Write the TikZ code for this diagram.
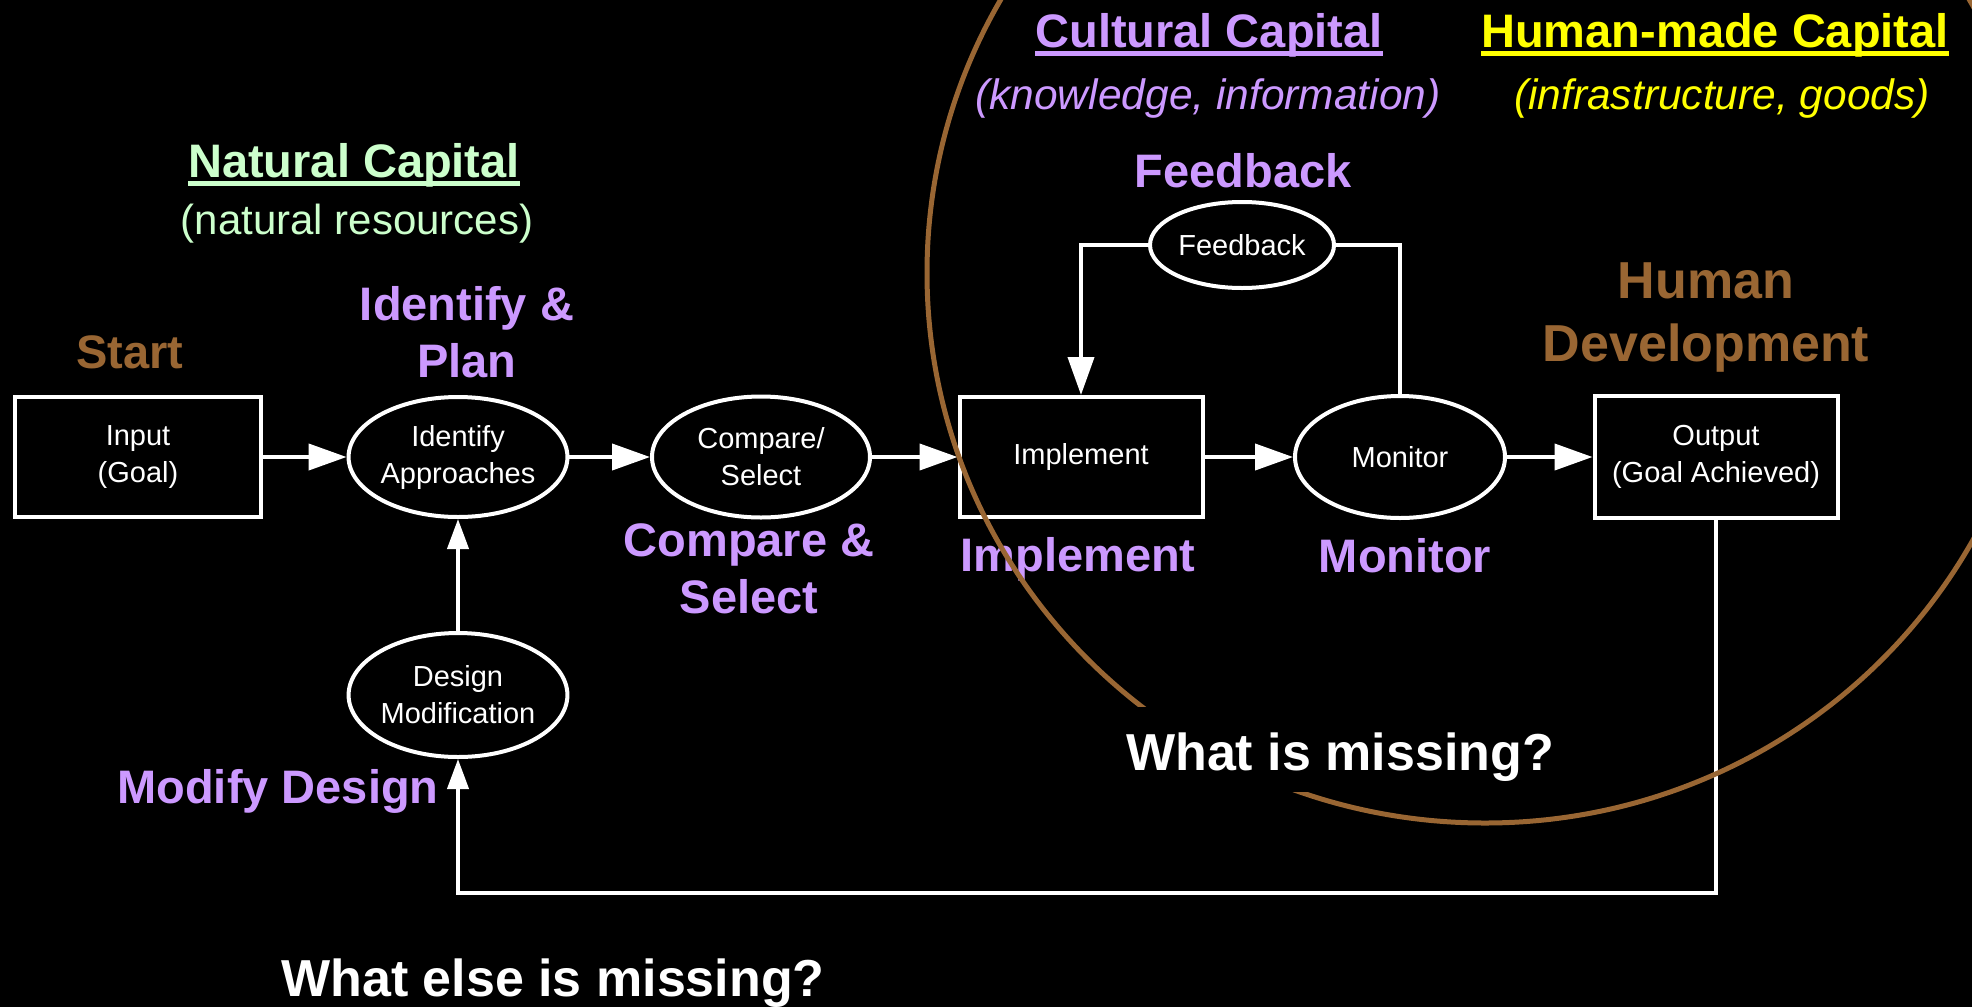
\documentclass[tikz,border=0pt]{standalone}
\usepackage{fontspec}
\setmainfont{Liberation Sans}
\usetikzlibrary{shapes.geometric,arrows.meta}
\definecolor{purplec}{RGB}{204,153,255}
\definecolor{brownc}{RGB}{153,102,51}
\definecolor{greenc}{RGB}{204,255,204}
\definecolor{yellowc}{RGB}{255,255,0}
\begin{document}
\begin{tikzpicture}[x=1pt,y=-1pt,
  box/.style={draw=white, line width=4pt, rectangle, minimum width=243pt, minimum height=120pt, inner sep=0pt, text=white, align=center, font=\fontsize{29}{37}\selectfont},
  oval/.style={draw=white, line width=4pt, ellipse, inner sep=0pt, text=white, align=center, font=\fontsize{29}{37}\selectfont},
  flow/.style={draw=white, line width=4pt, -{Triangle[length=38pt,width=26pt]}},
  flowsmall/.style={draw=white, line width=4pt, -{Triangle[length=30pt,width=21pt]}},
  plainline/.style={draw=white, line width=4pt},
  lbl/.style={inner sep=0pt, anchor=base, align=center, font=\fontsize{47}{57}\bfseries\selectfont},
  biglbl/.style={inner sep=0pt, anchor=base, align=center, font=\fontsize{52}{63}\bfseries\selectfont},
  sublbl/.style={inner sep=0pt, anchor=base, font=\fontsize{42}{50}\selectfont},
  itlbl/.style={inner sep=0pt, anchor=base, font=\fontsize{42.5}{50}\itshape\selectfont},
  uline/.style={line width=5pt}
]
\useasboundingbox (0,0) rectangle (1972,1007);
\clip (0,0) rectangle (1972,1007);
\fill[black] (0,0) rectangle (1972,1007);

% flow chart nodes
\node[box, minimum width=246pt] (input) at (138,457) {Input\\(Goal)};
\node[oval, minimum width=216pt, minimum height=120pt] (identify) at (458,457) {Identify\\Approaches};
\node[oval, minimum width=218pt, minimum height=121pt] (compare) at (761,457) {Compare/\\Select};
\node[box] (implement) at (1081,457) {Implement};
\node[oval, minimum width=210pt, minimum height=122pt] (monitor) at (1400,457) {Monitor};
\node[box, minimum height=122pt] (output) at (1716,457) {Output\\(Goal Achieved)};
\node[oval, minimum width=184pt, minimum height=86pt] (feedback) at (1242,245) {Feedback};
\node[oval, minimum width=215pt, minimum height=124pt] (design) at (458,695) {Design\\Modification};
\coordinate (loop) at (458,893);

% connectors
\draw[flow] (input) -- (identify);
\draw[flow] (identify) -- (compare);
\draw[flow] (compare) -- (implement);
\draw[flow] (implement) -- (monitor);
\draw[flow] (monitor) -- (output);
\draw[flow] (feedback.west) -| (implement.north);
\draw[plainline] (monitor.north) |- (feedback.east);
\draw[flowsmall] (design.north) -- (identify.south);
\draw[flowsmall] (output.south) |- (loop) -- (design.south);

% labels
\node[lbl, text=purplec] (cultural) at (1209,47) {Cultural Capital};
\draw[purplec, uline] ([yshift=-6pt]cultural.base west) -- ([yshift=-6pt]cultural.base east);
\node[lbl, text=yellowc] (humanmade) at (1715,47) {Human-made Capital};
\draw[yellowc, uline] ([yshift=-6pt]humanmade.base west) -- ([yshift=-6pt]humanmade.base east);
\node[itlbl, text=purplec] (knowledge) at (1208,109) {(knowledge, information)};
\node[itlbl, text=yellowc] (infra) at (1722,109) {(infrastructure, goods)};
\node[lbl, text=greenc] (natural) at (354,177) {Natural Capital};
\draw[greenc, uline] ([yshift=-6pt]natural.base west) -- ([yshift=-6pt]natural.base east);
\node[sublbl, text=greenc] (resources) at (357,234) {(natural resources)};
\node[lbl, text=purplec] (feedbacklbl) at (1243,187) {Feedback};
\node[lbl, text=brownc] (start) at (130,368) {Start};
\node[lbl, text=purplec] (identifylbl) at (467,377) {Identify \&\\Plan};
\node[biglbl, text=brownc] (humandev) at (1706,361) {Human\\Development};
\node[lbl, text=purplec] (comparelbl) at (749,613) {Compare \&\\Select};
\node[lbl, text=purplec] (implementlbl) at (1078,571) {Implement};
\node[lbl, text=purplec] (monitorlbl) at (1405,572) {Monitor};
\node[lbl, text=purplec] (modifylbl) at (278,803) {Modify Design};
\node[biglbl, text=white] (elsemissing) at (553,996) {What else is missing?};

% capital circle
\draw[brownc, line width=5pt] (1485,273) ellipse [x radius=558, y radius=550];
\node[inner xsep=8pt, inner ysep=0pt, anchor=base, text height=63pt, text depth=22pt, fill=black, text=white, font=\fontsize{52}{63}\bfseries\selectfont] (missing) at (1340,770) {What is missing?};
\end{tikzpicture}
\end{document}
